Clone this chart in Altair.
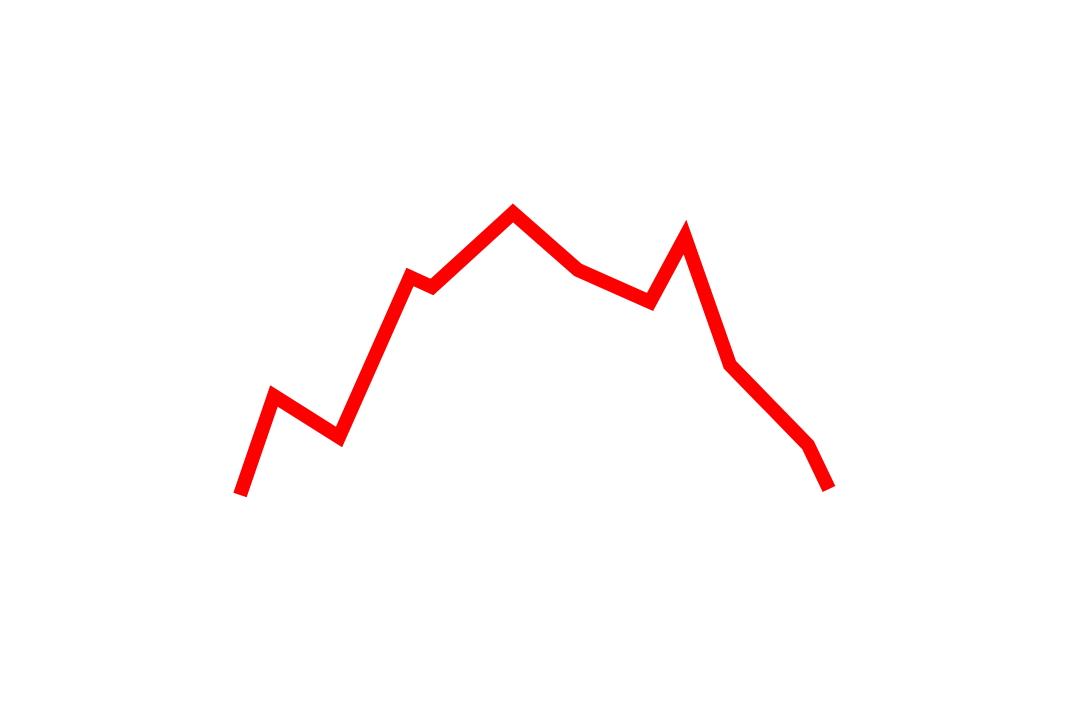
import altair as alt
import pandas as pd

# values (abstract units, x: horizontal position, y: height)
x_vals = [240, 274, 339, 410, 432, 513, 578, 650, 685, 730, 808, 829]
y_vals = [225, 324, 283, 443, 433, 507, 450, 418, 483, 355, 275, 231]

df = pd.DataFrame({"x": x_vals, "y": y_vals, "order": list(range(len(x_vals)))})

chart = alt.Chart(df).mark_line(
    color="#ff0000", strokeWidth=14, strokeCap="butt", strokeJoin="miter", strokeMiterLimit=10
).encode(
    x=alt.X("x:Q", scale=alt.Scale(domain=[8, 1072], nice=False, zero=False), axis=None),
    y=alt.Y("y:Q", scale=alt.Scale(domain=[8, 712], nice=False, zero=False), axis=None),
    order="order:Q",
).properties(
    width=1064, height=704, padding=0, background="white"
).configure_view(strokeWidth=0, stroke="transparent")

chart.save("out.html", embed_options={"renderer": "svg", "actions": False})
